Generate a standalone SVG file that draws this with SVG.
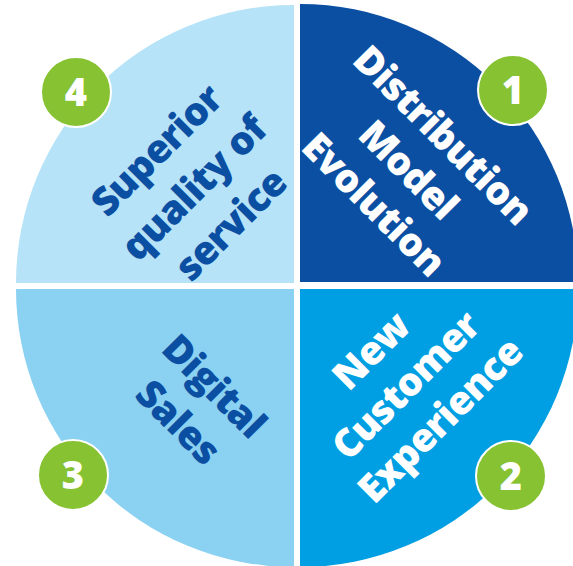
<svg xmlns="http://www.w3.org/2000/svg" width="573" height="566" viewBox="0 0 573 566">
<style>
.lbl{font-family:"Open Sans","Liberation Sans",sans-serif;font-weight:800;font-size:39px;text-anchor:middle;letter-spacing:-0.8px}
.dark{fill:#0b4fa3}
.white{fill:#ffffff}
.badge circle{fill:#86c232;stroke:#ffffff;stroke-width:2}
.badge text{font-family:"Open Sans","Liberation Sans",sans-serif;font-weight:800;font-size:38px;fill:#ffffff;text-anchor:middle}
</style>
<rect width="573" height="566" fill="#ffffff"/>
<g id="q4">
<path d="M294,283 L16,283 A278,278 0 0 1 294,5 Z" fill="#b6e3f8"/>
<g transform="translate(195,189) rotate(-45)">
<text class="lbl dark" x="0" y="-41">Superior</text>
<text class="lbl dark" x="0" y="12">quality of</text>
<text class="lbl dark" x="0" y="64">service</text>
</g>
</g>
<g id="q1">
<path d="M300,282 L300,4 A278,278 0 0 1 578,282 Z" fill="#0b4fa3"/>
<g transform="translate(408,170) rotate(45)">
<text class="lbl white" x="0" y="-36">Distribution</text>
<text class="lbl white" x="0" y="13">Model</text>
<text class="lbl white" x="0" y="62">Evolution</text>
</g>
</g>
<g id="q3">
<path d="M294,289 L294,567 A278,278 0 0 1 16,289 Z" fill="#8ad1f2"/>
<g transform="translate(196,404) rotate(45)">
<text class="lbl dark" x="0" y="-12">Digital</text>
<text class="lbl dark" x="0" y="39">Sales</text>
</g>
</g>
<g id="q2">
<path d="M300,289 L578,289 A278,278 0 0 1 300,567 Z" fill="#009fe3"/>
<g transform="translate(406,386) rotate(-45)">
<text class="lbl white" x="0" y="-36">New</text>
<text class="lbl white" x="0" y="13">Customer</text>
<text class="lbl white" x="0" y="62">Experience</text>
</g>
</g>
<g id="b4" class="badge"><circle cx="76" cy="92" r="35"/><text x="76" y="106">4</text></g>
<g id="b1" class="badge"><circle cx="513" cy="90" r="35"/><text x="513" y="104">1</text></g>
<g id="b3" class="badge"><circle cx="73" cy="475" r="35"/><text x="73" y="489">3</text></g>
<g id="b2" class="badge"><circle cx="511" cy="476" r="35"/><text x="511" y="490">2</text></g>
</svg>
